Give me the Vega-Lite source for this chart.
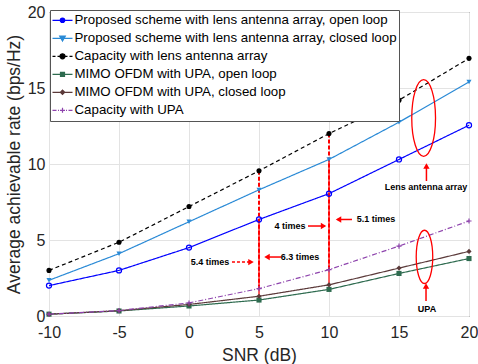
{
  "$schema": "https://vega.github.io/schema/vega-lite/v6.json",
  "width": 420,
  "height": 304,
  "autosize": {"type": "none"},
  "padding": {"left": 49, "top": 12, "right": 9, "bottom": 48},
  "config": {
    "font": "Liberation Sans",
    "view": {"stroke": "#262626", "strokeWidth": 1},
    "axis": {
      "grid": true, "gridColor": "#e3e3e3", "gridWidth": 1,
      "ticks": false, "domain": false,
      "labelFont": "Liberation Sans", "labelFontSize": 16, "labelColor": "#262626",
      "labelOverlap": false, "labelFlush": false,
      "titleFont": "Liberation Sans", "titleFontSize": 17.5, "titleFontWeight": "normal", "titleColor": "#262626"
    }
  },
  "datasets": {
    "rates": [
      {"series": "Proposed scheme with lens antenna array, open loop", "snr": -10, "rate": 2.0},
      {"series": "Proposed scheme with lens antenna array, open loop", "snr": -5, "rate": 3.0},
      {"series": "Proposed scheme with lens antenna array, open loop", "snr": 0, "rate": 4.5},
      {"series": "Proposed scheme with lens antenna array, open loop", "snr": 5, "rate": 6.35},
      {"series": "Proposed scheme with lens antenna array, open loop", "snr": 10, "rate": 8.05},
      {"series": "Proposed scheme with lens antenna array, open loop", "snr": 15, "rate": 10.3},
      {"series": "Proposed scheme with lens antenna array, open loop", "snr": 20, "rate": 12.55},
      {"series": "Proposed scheme with lens antenna array, closed loop", "snr": -10, "rate": 2.35},
      {"series": "Proposed scheme with lens antenna array, closed loop", "snr": -5, "rate": 4.1},
      {"series": "Proposed scheme with lens antenna array, closed loop", "snr": 0, "rate": 6.2},
      {"series": "Proposed scheme with lens antenna array, closed loop", "snr": 5, "rate": 8.3},
      {"series": "Proposed scheme with lens antenna array, closed loop", "snr": 10, "rate": 10.3},
      {"series": "Proposed scheme with lens antenna array, closed loop", "snr": 15, "rate": 12.75},
      {"series": "Proposed scheme with lens antenna array, closed loop", "snr": 20, "rate": 15.4},
      {"series": "Capacity with lens antenna array", "snr": -10, "rate": 3.0},
      {"series": "Capacity with lens antenna array", "snr": -5, "rate": 4.85},
      {"series": "Capacity with lens antenna array", "snr": 0, "rate": 7.2},
      {"series": "Capacity with lens antenna array", "snr": 5, "rate": 9.55},
      {"series": "Capacity with lens antenna array", "snr": 10, "rate": 12.0},
      {"series": "Capacity with lens antenna array", "snr": 15, "rate": 14.2},
      {"series": "Capacity with lens antenna array", "snr": 20, "rate": 16.95},
      {"series": "MIMO OFDM with UPA, open loop", "snr": -10, "rate": 0.12},
      {"series": "MIMO OFDM with UPA, open loop", "snr": -5, "rate": 0.33},
      {"series": "MIMO OFDM with UPA, open loop", "snr": 0, "rate": 0.66},
      {"series": "MIMO OFDM with UPA, open loop", "snr": 5, "rate": 1.05},
      {"series": "MIMO OFDM with UPA, open loop", "snr": 10, "rate": 1.75},
      {"series": "MIMO OFDM with UPA, open loop", "snr": 15, "rate": 2.8},
      {"series": "MIMO OFDM with UPA, open loop", "snr": 20, "rate": 3.78},
      {"series": "MIMO OFDM with UPA, closed loop", "snr": -10, "rate": 0.12},
      {"series": "MIMO OFDM with UPA, closed loop", "snr": -5, "rate": 0.35},
      {"series": "MIMO OFDM with UPA, closed loop", "snr": 0, "rate": 0.76},
      {"series": "MIMO OFDM with UPA, closed loop", "snr": 5, "rate": 1.3},
      {"series": "MIMO OFDM with UPA, closed loop", "snr": 10, "rate": 2.05},
      {"series": "MIMO OFDM with UPA, closed loop", "snr": 15, "rate": 3.15},
      {"series": "MIMO OFDM with UPA, closed loop", "snr": 20, "rate": 4.25},
      {"series": "Capacity with UPA", "snr": -10, "rate": 0.12},
      {"series": "Capacity with UPA", "snr": -5, "rate": 0.36},
      {"series": "Capacity with UPA", "snr": 0, "rate": 0.86},
      {"series": "Capacity with UPA", "snr": 5, "rate": 1.8},
      {"series": "Capacity with UPA", "snr": 10, "rate": 3.05},
      {"series": "Capacity with UPA", "snr": 15, "rate": 4.6},
      {"series": "Capacity with UPA", "snr": 20, "rate": 6.25}
    ],
    "ratioDashed": [
      {"snr": 5, "rate": 9.55, "rate2": 1.8},
      {"snr": 10, "rate": 12.0, "rate2": 3.05}
    ],
    "ratioSolid": [
      {"snr": 5, "rate": 6.35, "rate2": 1.05},
      {"snr": 10, "rate": 10.3, "rate2": 2.05}
    ],
    "arrowDashed": [
      {"rate": 3.55, "snr": 3.07, "snr2": 4.5}
    ],
    "arrowsH": [
      {"rate": 3.88, "snr": 6.57, "snr2": 5.5},
      {"rate": 5.92, "snr": 8.5, "snr2": 9.7},
      {"rate": 6.35, "snr": 11.64, "snr2": 10.6}
    ],
    "arrowsV": [
      {"snr": 16.96, "rate": 8.88, "rate2": 9.9},
      {"snr": 16.93, "rate": 0.99, "rate2": 2.0}
    ],
    "heads": [
      {"snr": 4.43, "rate": 3.55, "dir": "right"},
      {"snr": 5.57, "rate": 3.88, "dir": "left"},
      {"snr": 9.61, "rate": 5.92, "dir": "right"},
      {"snr": 10.68, "rate": 6.35, "dir": "left"},
      {"snr": 16.96, "rate": 9.87, "dir": "up"},
      {"snr": 16.93, "rate": 1.97, "dir": "up"}
    ],
    "notes": [
      {"snr": 1.5, "rate": 3.55, "note": "5.4 times"},
      {"snr": 7.93, "rate": 3.88, "note": "6.3 times"},
      {"snr": 7.21, "rate": 5.92, "note": "4 times"},
      {"snr": 13.36, "rate": 6.35, "note": "5.1 times"},
      {"snr": 16.93, "rate": 8.49, "note": "Lens antenna array"},
      {"snr": 17.0, "rate": 0.46, "note": "UPA"}
    ],
    "ellipseLens": [{"snr": 16.76, "rate": 13.03}],
    "ellipseUPA": [{"snr": 16.82, "rate": 3.89}]
  },
  "encoding": {
    "x": {"field": "snr", "type": "quantitative",
          "scale": {"domain": [-10, 20], "nice": false},
          "axis": {"values": [-10, -5, 0, 5, 10, 15, 20], "labelExpr": "'' + datum.value", "title": "SNR (dB)", "labelPadding": 8, "titlePadding": 6}},
    "y": {"field": "rate", "type": "quantitative",
          "scale": {"domain": [0, 20], "nice": false},
          "axis": {"values": [0, 5, 10, 15, 20], "labelExpr": "'' + datum.value", "title": "Average achievable rate (bps/Hz)", "labelPadding": 4, "titlePadding": 4}}
  },
  "layer": [
    {
      "data": {"name": "rates"},
      "mark": {"type": "line", "strokeWidth": 1.2},
      "encoding": {
        "color": {"field": "series", "type": "nominal", "legend": null,
                  "scale": {"domain": ["Proposed scheme with lens antenna array, open loop", "Proposed scheme with lens antenna array, closed loop", "Capacity with lens antenna array", "MIMO OFDM with UPA, open loop", "MIMO OFDM with UPA, closed loop", "Capacity with UPA"],
                            "range": ["#0000ff", "#2a8ad6", "#000000", "#2e6b4f", "#5b3a3a", "#8e44ad"]}},
        "strokeDash": {"field": "series", "type": "nominal", "legend": null,
                  "scale": {"domain": ["Proposed scheme with lens antenna array, open loop", "Proposed scheme with lens antenna array, closed loop", "Capacity with lens antenna array", "MIMO OFDM with UPA, open loop", "MIMO OFDM with UPA, closed loop", "Capacity with UPA"],
                            "range": [[1, 0], [1, 0], [4, 3], [1, 0], [1, 0], [5, 2, 1, 2]]}}
      }
    },
    {
      "data": {"name": "ratioSolid"},
      "mark": {"type": "rule", "color": "#ff2020", "strokeWidth": 2, "opacity": 0.7},
      "encoding": {"y2": {"field": "rate2"}}
    },
    {
      "data": {"name": "ratioDashed"},
      "mark": {"type": "rule", "color": "#ff0000", "strokeWidth": 2, "strokeDash": [4, 2]},
      "encoding": {"y2": {"field": "rate2"}}
    },
    {
      "data": {"name": "rates"},
      "transform": [{"filter": {"field": "series", "oneOf": ["Proposed scheme with lens antenna array, closed loop", "Capacity with lens antenna array", "MIMO OFDM with UPA, open loop", "MIMO OFDM with UPA, closed loop"]}}],
      "mark": {"type": "point", "filled": true, "size": 26, "opacity": 1},
      "encoding": {
        "color": {"field": "series", "type": "nominal", "legend": null},
        "shape": {"field": "series", "type": "nominal", "legend": null,
                  "scale": {"domain": ["Proposed scheme with lens antenna array, closed loop", "Capacity with lens antenna array", "MIMO OFDM with UPA, open loop", "MIMO OFDM with UPA, closed loop"],
                            "range": ["triangle-down", "circle", "square", "diamond"]}}
      }
    },
    {
      "data": {"name": "rates"},
      "transform": [{"filter": {"field": "series", "oneOf": ["Proposed scheme with lens antenna array, open loop", "Capacity with UPA"]}}],
      "mark": {"type": "point", "filled": false, "size": 26, "strokeWidth": 1.2, "opacity": 1},
      "encoding": {
        "color": {"field": "series", "type": "nominal", "legend": null},
        "shape": {"field": "series", "type": "nominal", "legend": null,
                  "scale": {"domain": ["Proposed scheme with lens antenna array, open loop", "Capacity with UPA"],
                            "range": ["circle", "M -1 0 L 1 0 M 0 -1 L 0 1"]}}
      }
    },
    {
      "data": {"name": "arrowDashed"},
      "mark": {"type": "rule", "color": "#ff0000", "strokeWidth": 1.5, "strokeDash": [3, 2]},
      "encoding": {"x2": {"field": "snr2"}}
    },
    {
      "data": {"name": "arrowsH"},
      "mark": {"type": "rule", "color": "#ff0000", "strokeWidth": 1.5},
      "encoding": {"x2": {"field": "snr2"}}
    },
    {
      "data": {"name": "arrowsV"},
      "mark": {"type": "rule", "color": "#ff0000", "strokeWidth": 1.5},
      "encoding": {"y2": {"field": "rate2"}}
    },
    {
      "data": {"name": "heads"},
      "mark": {"type": "point", "filled": true, "size": 40, "color": "#ff0000", "opacity": 1},
      "encoding": {
        "shape": {"field": "dir", "type": "nominal", "legend": null,
                  "scale": {"domain": ["right", "left", "up"], "range": ["triangle-right", "triangle-left", "triangle-up"]}}
      }
    },
    {
      "data": {"name": "notes"},
      "mark": {"type": "text", "font": "Liberation Sans", "fontWeight": "bold", "fontSize": 9, "color": "#000000", "align": "center", "baseline": "middle"},
      "encoding": {"text": {"field": "note", "type": "nominal"}}
    },
    {
      "data": {"name": "ellipseLens"},
      "mark": {"type": "point", "filled": false, "shape": "M 0 -1 A 0.31 1 0 1 1 0 1 A 0.31 1 0 1 1 0 -1 Z", "size": 5880, "color": "#ff0000", "strokeWidth": 1.3, "opacity": 1}
    },
    {
      "data": {"name": "ellipseUPA"},
      "mark": {"type": "point", "filled": false, "shape": "M 0 -1 A 0.31 1 0 1 1 0 1 A 0.31 1 0 1 1 0 -1 Z", "size": 2840, "color": "#ff0000", "strokeWidth": 1.3, "opacity": 1}
    },
    {
      "data": {"name": "rates"},
      "transform": [{"filter": "datum.snr > 100"}],
      "mark": {"type": "point", "filled": true},
      "encoding": {
        "shape": {"field": "series", "type": "nominal",
                  "scale": {"domain": ["Proposed scheme with lens antenna array, open loop", "Proposed scheme with lens antenna array, closed loop", "Capacity with lens antenna array", "MIMO OFDM with UPA, open loop", "MIMO OFDM with UPA, closed loop", "Capacity with UPA"],
                            "range": [
                              "M -1 0 L 1 0 M -0.22 0 A 0.22 0.22 0 1 0 0.22 0 A 0.22 0.22 0 1 0 -0.22 0 Z",
                              "M -1 0 L 1 0 M -0.28 -0.22 L 0.28 -0.22 L 0 0.28 Z",
                              "M -1 0 L -0.7 0 M -0.5 0 L -0.2 0 M 0.2 0 L 0.5 0 M 0.7 0 L 1 0 M -0.25 0 A 0.25 0.25 0 1 0 0.25 0 A 0.25 0.25 0 1 0 -0.25 0 Z",
                              "M -1 0 L 1 0 M -0.2 -0.2 L 0.2 -0.2 L 0.2 0.2 L -0.2 0.2 Z",
                              "M -1 0 L 1 0 M -0.22 0 L 0 -0.22 L 0.22 0 L 0 0.22 Z",
                              "M -1 0 L -0.6 0 M -0.45 0 L -0.35 0 M 0.35 0 L 0.45 0 M 0.6 0 L 1 0 M -0.25 0 L 0.25 0 M 0 -0.25 L 0 0.25"
                            ]},
                  "legend": {"orient": "none", "legendX": 1, "legendY": -2, "title": null, "symbolSize": 400, "clipHeight": 17.6, "labelFont": "Liberation Sans", "labelFontSize": 13.3, "labelColor": "#000000", "labelLimit": 600, "labelOffset": 1, "padding": 1.5, "rowPadding": 0, "fillColor": "#ffffff", "strokeColor": "#555555", "symbolStrokeWidth": 1.2, "cornerRadius": 0, "symbolOpacity": 1}},
        "fill": {"field": "series", "type": "nominal",
                 "scale": {"domain": ["Proposed scheme with lens antenna array, open loop", "Proposed scheme with lens antenna array, closed loop", "Capacity with lens antenna array", "MIMO OFDM with UPA, open loop", "MIMO OFDM with UPA, closed loop", "Capacity with UPA"],
                           "range": ["#0000ff", "#2a8ad6", "#000000", "#2e6b4f", "#5b3a3a", "#8e44ad"]},
                 "legend": {"orient": "none", "legendX": 1, "legendY": -2, "title": null, "symbolSize": 400, "clipHeight": 17.6, "labelFont": "Liberation Sans", "labelFontSize": 13.3, "labelColor": "#000000", "labelLimit": 600, "labelOffset": 1, "padding": 1.5, "rowPadding": 0, "fillColor": "#ffffff", "strokeColor": "#555555", "symbolStrokeWidth": 1.2, "cornerRadius": 0, "symbolOpacity": 1}},
        "stroke": {"field": "series", "type": "nominal",
                 "scale": {"domain": ["Proposed scheme with lens antenna array, open loop", "Proposed scheme with lens antenna array, closed loop", "Capacity with lens antenna array", "MIMO OFDM with UPA, open loop", "MIMO OFDM with UPA, closed loop", "Capacity with UPA"],
                           "range": ["#0000ff", "#2a8ad6", "#000000", "#2e6b4f", "#5b3a3a", "#8e44ad"]},
                 "legend": {"orient": "none", "legendX": 1, "legendY": -2, "title": null, "symbolSize": 400, "clipHeight": 17.6, "labelFont": "Liberation Sans", "labelFontSize": 13.3, "labelColor": "#000000", "labelLimit": 600, "labelOffset": 1, "padding": 1.5, "rowPadding": 0, "fillColor": "#ffffff", "strokeColor": "#555555", "symbolStrokeWidth": 1.2, "cornerRadius": 0, "symbolOpacity": 1}}
      }
    }
  ],
  "resolve": {"scale": {"shape": "independent", "fill": "independent", "stroke": "independent"}}
}
